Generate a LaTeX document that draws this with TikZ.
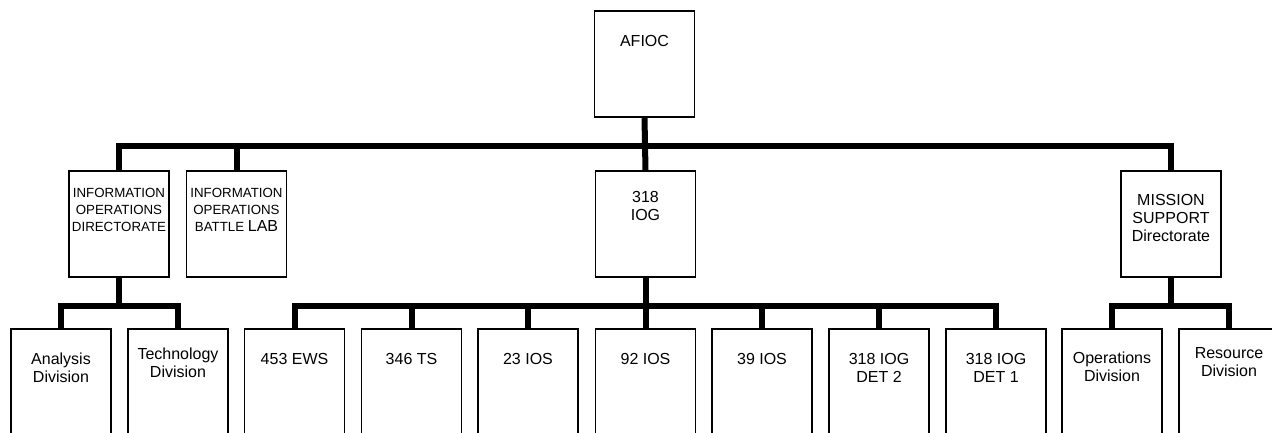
\documentclass[tikz,border=0pt]{standalone}
\usepackage{fontspec}
\setmainfont{Liberation Sans}
\begin{document}
\begin{tikzpicture}[x=1pt,y=-1pt,
  box/.style={draw,line width=1.5pt,minimum width=100pt,minimum height=106pt,inner sep=0pt},
  lowbox/.style={draw,line width=1.5pt,minimum width=100pt,minimum height=130pt,inner sep=0pt},
  lbl/.style={font=\fontsize{16}{18}\selectfont,align=center,inner sep=0pt},
  slbl/.style={font=\fontsize{13.3}{17}\selectfont,align=center,inner sep=0pt},
  conn/.style={line width=6pt}]
\useasboundingbox (0,0) rectangle (1272,433);
\clip (0,0) rectangle (1272,433);
% top
\node[box] (afioc) at (644.5,64) {};
\node[lbl] (tafioc) at (644.5,41) {AFIOC};
% level 2
\node[box] (iod) at (119,224) {};
\node[slbl] (tiod) at (119,210) {INFORMATION\\OPERATIONS\\DIRECTORATE};
\node[box] (iobl) at (236.5,224) {};
\node[slbl] (tiobl) at (236.5,210) {INFORMATION\\OPERATIONS\\BATTLE {\fontsize{16}{17}\selectfont LAB}};
\node[box] (iog) at (645.5,224) {};
\node[lbl] (tiog) at (645.5,206) {318\\IOG};
\node[box] (msd) at (1171,224) {};
\node[lbl] (tmsd) at (1171,218) {MISSION\\SUPPORT\\Directorate};
% level 3
\node[lowbox] (ana) at (61,394) {};
\node[lbl] (tana) at (61,368) {Analysis\\Division};
\node[lowbox] (tech) at (178,394) {};
\node[lbl] (ttech) at (178,363) {Technology\\Division};
\node[lowbox] (ews) at (294.5,394) {};
\node[lbl] (tews) at (294.5,359) {453 EWS};
\node[lowbox] (ts) at (411.5,394) {};
\node[lbl] (tts) at (411.5,359) {346 TS};
\node[lowbox] (ios23) at (528,394) {};
\node[lbl] (tios23) at (528,359) {23 IOS};
\node[lowbox] (ios92) at (645.5,394) {};
\node[lbl] (tios92) at (645.5,359) {92 IOS};
\node[lowbox] (ios39) at (762,394) {};
\node[lbl] (tios39) at (762,359) {39 IOS};
\node[lowbox] (det2) at (879,394) {};
\node[lbl] (tdet2) at (879,368) {318 IOG\\DET 2};
\node[lowbox] (det1) at (996,394) {};
\node[lbl] (tdet1) at (996,368) {318 IOG\\DET 1};
\node[lowbox] (ops) at (1112,394) {};
\node[lbl] (tops) at (1112,367) {Operations\\Division};
\node[lowbox] (res) at (1229,394) {};
\node[lbl] (tres) at (1229,362) {Resource\\Division};
% connectors level 1-2
\coordinate (b1) at (645.5,146);
\draw[conn] (afioc.south) -- (iog.north);
\draw[conn] (iod.north) |- (b1) -| (msd.north);
\draw[conn] (iobl.north) -- (iobl.north |- b1);
% level 2-3
\coordinate (s1) at (119,306);
\draw[conn] (iod.south) -- (s1);
\draw[conn] (ana.north) |- (s1) -| (tech.north);
\coordinate (s2) at (645.5,306);
\draw[conn] (iog.south) -- (ios92.north);
\draw[conn] (ews.north) |- (s2) -| (det1.north);
\draw[conn] (ts.north) -- (ts.north |- s2);
\draw[conn] (ios23.north) -- (ios23.north |- s2);
\draw[conn] (ios39.north) -- (ios39.north |- s2);
\draw[conn] (det2.north) -- (det2.north |- s2);
\coordinate (s3) at (1171,306);
\draw[conn] (msd.south) -- (s3);
\draw[conn] (ops.north) |- (s3) -| (res.north);
\end{tikzpicture}
\end{document}
